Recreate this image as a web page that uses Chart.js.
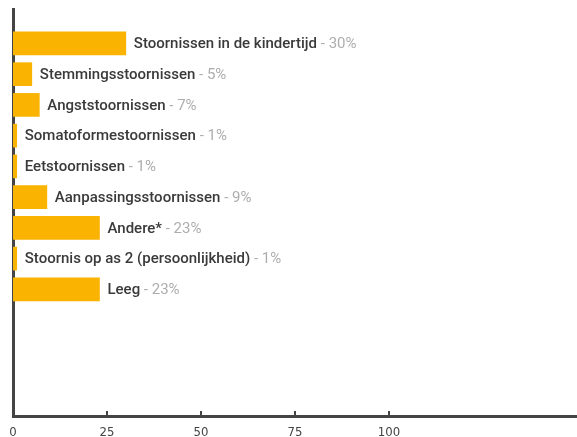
<!DOCTYPE html>
<html>
<head>
<meta charset="utf-8">
<script src="https://cdn.jsdelivr.net/npm/chart.js@4/dist/chart.umd.min.js"></script>
<style>
  html, body { margin: 0; padding: 0; background: #fff; }
  #wrap { width: 577px; height: 437px; position: relative; }
</style>
</head>
<body>
<div id="wrap"><canvas id="chart"></canvas></div>
<script>
// Categories and their share in %
const categories = [
  'Stoornissen in de kindertijd',
  'Stemmingsstoornissen',
  'Angststoornissen',
  'Somatoformestoornissen',
  'Eetstoornissen',
  'Aanpassingsstoornissen',
  'Andere*',
  'Stoornis op as 2 (persoonlijkheid)',
  'Leeg'
];
const percentages = [30, 5, 7, 1, 1, 9, 23, 1, 23];
const xTickLabels = [0, 25, 50, 75, 100];

const barColor = '#f9b300';
const axisColor = '#444444';

// text to the right of each bar: "Label - NN%"
const barLabels = {
  id: 'barLabels',
  afterDatasetsDraw(chart) {
    const ctx = chart.ctx;
    const meta = chart.getDatasetMeta(0);
    ctx.save();
    ctx.textBaseline = 'middle';
    ctx.textAlign = 'left';
    meta.data.forEach((bar, i) => {
      let x = bar.x + 8;
      const y = bar.y + 1;
      ctx.font = '500 15px Roboto, "Open Sans", sans-serif';
      ctx.fillStyle = '#3a3a3a';
      ctx.fillText(categories[i], x, y);
      x += ctx.measureText(categories[i]).width;
      ctx.font = '400 15px Roboto, "Open Sans", sans-serif';
      ctx.fillStyle = '#adadad';
      ctx.fillText(' - ' + percentages[i] + '%', x, y);
    });
    ctx.restore();
  }
};

// small tick marks pointing up from the x axis
const axisTicks = {
  id: 'axisTicks',
  afterDraw(chart) {
    const ctx = chart.ctx;
    const xs = chart.scales.x;
    const bottom = chart.chartArea.bottom;
    ctx.save();
    ctx.strokeStyle = axisColor;
    ctx.lineWidth = 2;
    xTickLabels.forEach(v => {
      if (v === 0) return;
      const px = Math.round(xs.getPixelForValue(v));
      ctx.beginPath();
      ctx.moveTo(px, bottom - 5);
      ctx.lineTo(px, bottom);
      ctx.stroke();
    });
    ctx.restore();
  }
};

new Chart(document.getElementById('chart'), {
  type: 'bar',
  data: {
    datasets: [{
      data: percentages.map((v, i) => ({x: v, y: i})),
      backgroundColor: barColor,
      borderWidth: 0,
      barThickness: 23
    }]
  },
  options: {
    indexAxis: 'y',
    responsive: true,
    maintainAspectRatio: false,
    animation: false,
    layout: { padding: { left: 13, top: 9, right: 0, bottom: 0 } },
    plugins: {
      legend: { display: false },
      tooltip: { enabled: false }
    },
    scales: {
      x: {
        type: 'linear',
        min: 0,
        max: 150,
        grid: { display: false, drawTicks: false },
        border: { display: true, color: axisColor, width: 3 },
        ticks: {
          stepSize: 25,
          maxRotation: 0,
          padding: 10,
          color: axisColor,
          font: { family: '"Liberation Sans Narrow", "DejaVu Sans Condensed", sans-serif', size: 13, lineHeight: 1 },
          callback: v => xTickLabels.includes(v) ? String(v) : ''
        },
        afterFit: s => { s.height = 21; s.paddingLeft = 0; s.paddingRight = 0; }
      },
      y: {
        type: 'linear',
        reverse: true,
        offset: false,
        bounds: 'data',
        min: -1.12,
        max: 12.12,
        z: 1,
        grid: { display: false, drawTicks: false, offset: false },
        border: { display: true, color: axisColor, width: 3 },
        ticks: { display: false },
        afterFit: s => { s.width = 0; s.paddingTop = 0; s.paddingBottom = 0; }
      }
    }
  },
  plugins: [barLabels, axisTicks]
});
</script>
</body>
</html>
